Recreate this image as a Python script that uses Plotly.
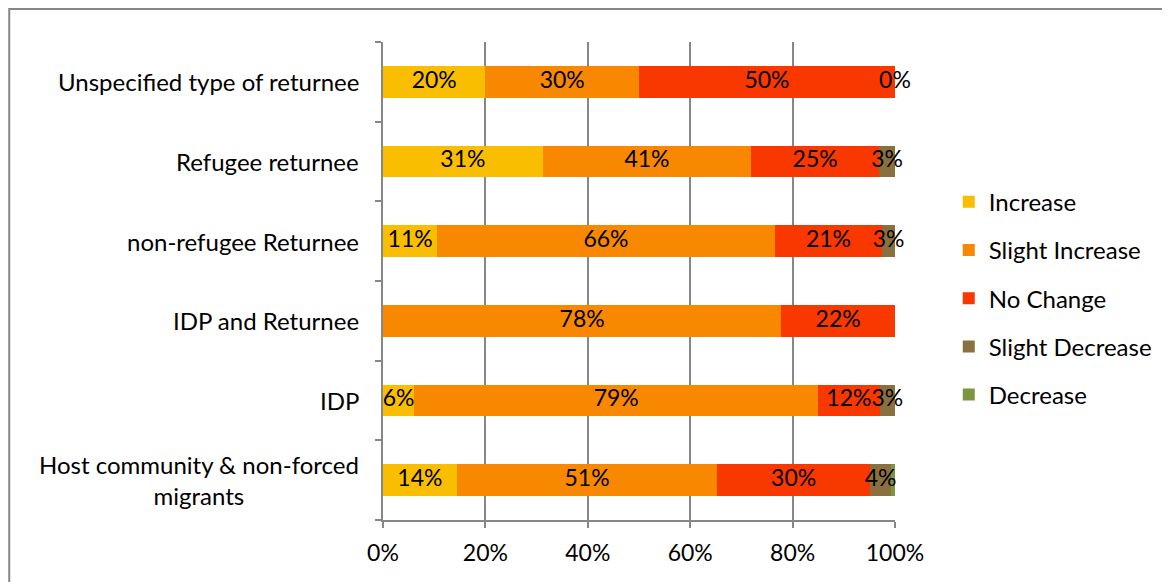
import plotly.graph_objects as go

categories = [
    "Host community & non-forced<br>migrants",
    "IDP",
    "IDP and Returnee",
    "non-refugee Returnee",
    "Refugee returnee",
    "Unspecified type of returnee",
]
increase = [14.4, 6.1, 0.0, 10.6, 31.2, 20.0]
slight_increase = [50.9, 78.9, 77.8, 65.9, 40.7, 30.0]
no_change = [29.8, 12.0, 22.2, 21.0, 25.0, 50.0]
slight_decrease = [4.2, 3.0, 0.0, 2.5, 3.1, 0.0]
decrease = [0.7, 0.0, 0.0, 0.0, 0.0, 0.0]

series = [
    ("Increase", increase, "#F9BE00"),
    ("Slight Increase", slight_increase, "#F88800"),
    ("No Change", no_change, "#F93800"),
    ("Slight Decrease", slight_decrease, "#8B703F"),
    ("Decrease", decrease, "#7F9443"),
]

# which segments carry a data label (excel shows them for these cells)
label_rows = {
    "Increase": [0, 1, 3, 4, 5],
    "Slight Increase": [0, 1, 2, 3, 4, 5],
    "No Change": [0, 1, 2, 3, 4, 5],
    "Slight Decrease": [0, 1, 3, 4, 5],
}

FONT = "Lato, Calibri, sans-serif"
TXT = 24
NUM = 23

fig = go.Figure()
for name, vals, color in series:
    fig.add_trace(go.Bar(
        y=categories,
        x=vals,
        name=name,
        orientation="h",
        marker=dict(color=color, line=dict(width=0)),
        legendgroup=name,
        hoverinfo="x+name",
    ))

# data labels centred in each segment (half-up rounding like excel)
lx, ly, lt = [], [], []
cum = [0.0] * len(categories)
for name, vals, color in series:
    for i, v in enumerate(vals):
        if i in label_rows.get(name, []):
            lx.append(cum[i] + v / 2)
            ly.append(categories[i])
            lt.append(f"{int(v + 0.5)}%")
        cum[i] += v
fig.add_trace(go.Scatter(
    x=lx, y=ly, text=lt, mode="text",
    textfont=dict(family=FONT, size=NUM, color="black"),
    showlegend=False, hoverinfo="skip", cliponaxis=False,
))

# category labels (centered multi-line like excel)
for c in categories:
    fig.add_annotation(
        x=0, xref="paper", y=c, yref="y",
        text=c, showarrow=False, xanchor="right", xshift=-22,
        align="center", font=dict(family=FONT, size=TXT, color="black"),
    )

fig.add_shape(
    type="rect", xref="paper", yref="paper",
    x0=-0.73, x1=1.6, y0=-0.3, y1=1.069,
    line=dict(color="#878787", width=2), fillcolor="rgba(0,0,0,0)",
    layer="below",
)

# page body keeps an 8px margin, so the figure is a bit smaller and shifted
fig.update_layout(
    barmode="stack",
    bargap=0.6,
    width=1162,
    height=574,
    paper_bgcolor="white",
    plot_bgcolor="white",
    font=dict(family=FONT, size=TXT, color="black"),
    margin=dict(l=375, r=275, t=34, b=62),
    showlegend=True,
    legend=dict(
        traceorder="grouped",
        tracegroupgap=14,
        x=1.105, xanchor="left",
        y=0.464, yanchor="middle",
        font=dict(family=FONT, size=TXT),
        itemwidth=30,
    ),
    xaxis=dict(
        range=[0, 100],
        tickvals=[0, 20, 40, 60, 80, 100],
        ticktext=["0%", "20%", "40%", "60%", "80%", "100%"],
        showgrid=True, gridcolor="#878787", gridwidth=2,
        showline=True, linecolor="#878787", linewidth=2,
        ticks="outside", ticklen=6, tickcolor="#878787", tickwidth=2,
        ticklabelstandoff=5,
        zeroline=False,
        tickfont=dict(family=FONT, size=NUM),
    ),
    yaxis=dict(
        showticklabels=False,
        tickson="boundaries",
        ticks="outside", ticklen=6, tickcolor="#878787", tickwidth=2,
        showline=True, linecolor="#878787", linewidth=2,
        showgrid=False,
        range=[-0.5, 5.5],
    ),
)

fig.write_html("out.html")
